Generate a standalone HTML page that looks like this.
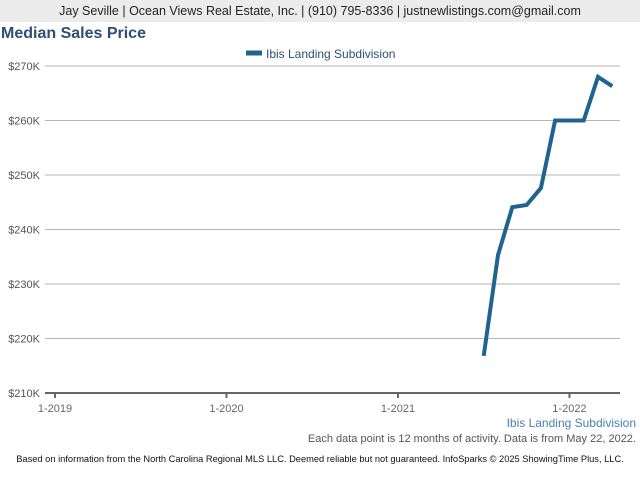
<!DOCTYPE html>
<html><head><meta charset="utf-8"><style>
body{margin:0;width:640px;height:480px;background:#fff;font-family:"Liberation Sans",Arial,sans-serif;overflow:hidden;position:relative}
.hdr{position:absolute;left:0;top:0;width:640px;height:22px;background:#ececec;font-size:12.5px;color:#222;text-align:center;line-height:22px}
.t{position:absolute;left:1px;top:25px;font-size:16px;font-weight:bold;color:#2b4f72}
svg{position:absolute;left:0;top:0}
</style></head><body>
<div class="hdr">Jay Seville | Ocean Views Real Estate, Inc. | (910) 795-8336 | justnewlistings.com@gmail.com</div>
<div class="t">Median Sales Price</div>
<svg width="640" height="480" id="c">
<g id="grid"></g><g id="ax"></g>
<line x1="246" y1="53" x2="262" y2="53" stroke="#1f6490" stroke-width="5"/>
<text x="266" y="58" font-size="12" fill="#2b4f72">Ibis Landing Subdivision</text>
<text x="636" y="427" font-size="12" fill="#4a7fb5" text-anchor="end">Ibis Landing Subdivision</text>
<text x="636" y="442" font-size="11" fill="#555" text-anchor="end">Each data point is 12 months of activity. Data is from May 22, 2022.</text>
<text x="320" y="462" font-size="9.3" fill="#111" text-anchor="middle">Based on information from the North Carolina Regional MLS LLC. Deemed reliable but not guaranteed. InfoSparks © 2025 ShowingTime Plus, LLC.</text>
<path id="line" fill="none" stroke="#1f6490" stroke-width="4" stroke-linejoin="miter"/>
</svg>
<script>
const months=[30,31,32,33,34,35,36,37,38,39]; // months since 1-2019
const values=[216.8,235.3,244.1,244.5,247.6,260,260,260,268.0,266.3];
const yTicks=[210,220,230,240,250,260,270];
const xTicks=["1-2019","1-2020","1-2021","1-2022"];
const X0=55,MW=14.29,Y0=393,YK=5.45;
const xs=m=>X0+m*MW, ys=v=>Y0-(v-210)*YK;
const ns="http://www.w3.org/2000/svg";
const g=document.getElementById('grid'),ax=document.getElementById('ax');
function mk(tag,at,p){const e=document.createElementNS(ns,tag);for(const k in at)e.setAttribute(k,at[k]);p.appendChild(e);return e;}
yTicks.forEach(v=>{
 if(v>210){const l=mk('line',{x1:45,x2:620,y1:ys(v),y2:ys(v),stroke:'#b5b5b5','stroke-width':1},g);
 
 }
 const t=mk('text',{x:40,y:ys(v)+4,'font-size':11,fill:'#555','text-anchor':'end'},ax);t.textContent='$'+v+'K';
 
 
});
const a=mk('line',{x1:45,x2:620,y1:Y0,y2:Y0,stroke:'#666','stroke-width':2},ax);


xTicks.forEach((s,i)=>{const x=xs(i*12);
 const tk=mk('line',{x1:x,x2:x,y1:Y0,y2:Y0+5,stroke:'#666','stroke-width':2},ax);
 
 
 const t=mk('text',{x:x,y:412,'font-size':11,fill:'#666','text-anchor':'middle'},ax);t.textContent=s;
 
 
});
document.getElementById('line').setAttribute('d',months.map((m,i)=>(i?'L':'M')+xs(m).toFixed(1)+','+ys(values[i]).toFixed(1)).join(' '));
</script>
</body></html>
